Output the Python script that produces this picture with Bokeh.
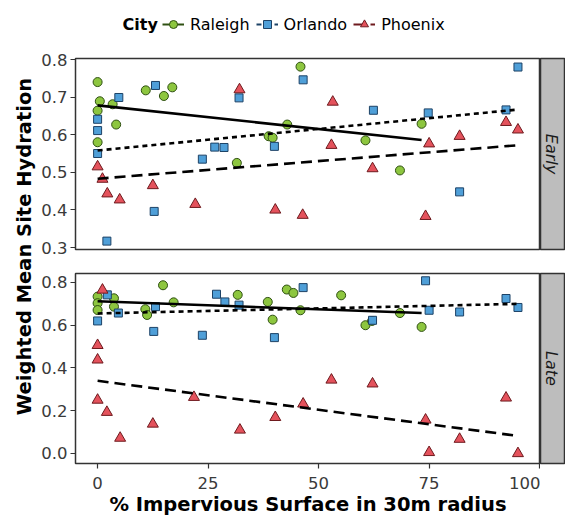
import numpy as np
from bokeh.plotting import figure
from bokeh.layouts import column, row
from bokeh.models import (Range1d, FixedTicker, PrintfTickFormatter, Label, Legend,
                          LegendItem, ColumnDataSource)
from bokeh.embed import file_html
from bokeh.resources import INLINE

# ---------------- data ----------------
cities = ["Raleigh", "Orlando", "Phoenix"]
periods = ["Early", "Late"]

early_raleigh_x = [0, 0.5, 0, 3.4, 4.2, 0, 10.9, 15.0, 16.9, 31.5, 38.7, 39.6, 42.9, 45.9, 60.6, 68.4, 73.3]
early_raleigh_y = [0.740, 0.689, 0.664, 0.681, 0.627, 0.580, 0.718, 0.703, 0.726, 0.525, 0.596, 0.592, 0.627, 0.781, 0.585, 0.505, 0.629]

early_orlando_x = [0, 0, 0, 2.1, 4.8, 13.1, 12.8, 23.7, 26.5, 28.6, 32.0, 40.0, 46.5, 62.4, 74.8, 81.9, 92.4, 95.1]
early_orlando_y = [0.641, 0.611, 0.550, 0.317, 0.699, 0.731, 0.396, 0.535, 0.567, 0.566, 0.698, 0.569, 0.746, 0.665, 0.658, 0.448, 0.666, 0.780]

early_phoenix_x = [0, 1.1, 2.2, 5.0, 12.5, 22.1, 32.1, 40.2, 46.4, 53.2, 52.9, 62.2, 75.0, 74.2, 81.9, 92.4, 95.1]
early_phoenix_y = [0.515, 0.482, 0.443, 0.427, 0.465, 0.415, 0.720, 0.400, 0.386, 0.687, 0.572, 0.510, 0.576, 0.383, 0.596, 0.633, 0.613]

late_raleigh_x = [0, 0, 0, 3.7, 3.7, 10.8, 11.2, 14.8, 17.2, 31.7, 38.5, 39.6, 42.8, 44.3, 45.9, 55.1, 60.6, 62.1, 68.4, 73.3]
late_raleigh_y = [0.734, 0.703, 0.671, 0.726, 0.687, 0.675, 0.648, 0.787, 0.707, 0.742, 0.709, 0.626, 0.767, 0.751, 0.670, 0.740, 0.600, 0.620, 0.657, 0.592]

late_orlando_x = [0, 2.2, 4.7, 13.1, 12.7, 23.7, 26.9, 28.8, 32.0, 40.0, 46.5, 62.2, 74.2, 75.0, 81.9, 92.4, 95.1]
late_orlando_y = [0.620, 0.742, 0.657, 0.687, 0.571, 0.553, 0.745, 0.709, 0.694, 0.542, 0.776, 0.623, 0.808, 0.670, 0.662, 0.725, 0.683]

late_phoenix_x = [1.1, 0, 0, 0, 2.1, 5.1, 12.5, 21.8, 32.2, 40.2, 46.5, 52.9, 62.2, 74.2, 75.0, 81.9, 92.4, 95.1]
late_phoenix_y = [0.765, 0.506, 0.438, 0.250, 0.193, 0.072, 0.138, 0.263, 0.110, 0.169, 0.232, 0.344, 0.326, 0.157, 0.005, 0.067, 0.260, 0.000]

# fitted trend lines (end points)
early_fit_raleigh_x = [0, 73.3]
early_fit_raleigh_y = [0.678, 0.586]
early_fit_orlando_x = [0, 95.1]
early_fit_orlando_y = [0.558, 0.667]
early_fit_phoenix_x = [0, 95.1]
early_fit_phoenix_y = [0.483, 0.572]

late_fit_raleigh_x = [0, 73.3]
late_fit_raleigh_y = [0.712, 0.657]
late_fit_orlando_x = [0, 95.1]
late_fit_orlando_y = [0.655, 0.700]
late_fit_phoenix_x = [0, 95.1]
late_fit_phoenix_y = [0.340, 0.082]

x_ticks = [0, 25, 50, 75, 100]
early_y_ticks = [0.3, 0.4, 0.5, 0.6, 0.7, 0.8]
late_y_ticks = [0.0, 0.2, 0.4, 0.6, 0.8]

x_title = "% Impervious Surface in 30m radius"
y_title = "Weighted Mean Site Hydration"
legend_title = "City"

# ---------------- styles ----------------
FONT = "DejaVu Sans"
fill = {"Raleigh": "#8dc63f", "Orlando": "#4f9fd8", "Phoenix": "#e4525c"}
edge = {"Raleigh": "#2f5012", "Orlando": "#1d4266", "Phoenix": "#6e1a1e"}
marker = {"Raleigh": "circle", "Orlando": "square", "Phoenix": "triangle"}
msize = {"Raleigh": 9, "Orlando": 8, "Phoenix": 11}
dash = {"Raleigh": "solid", "Orlando": "5 4", "Phoenix": "11 6"}

points = {
    "Early": {"Raleigh": (early_raleigh_x, early_raleigh_y),
              "Orlando": (early_orlando_x, early_orlando_y),
              "Phoenix": (early_phoenix_x, early_phoenix_y)},
    "Late": {"Raleigh": (late_raleigh_x, late_raleigh_y),
             "Orlando": (late_orlando_x, late_orlando_y),
             "Phoenix": (late_phoenix_x, late_phoenix_y)},
}
fits = {
    "Early": {"Raleigh": (early_fit_raleigh_x, early_fit_raleigh_y),
              "Orlando": (early_fit_orlando_x, early_fit_orlando_y),
              "Phoenix": (early_fit_phoenix_x, early_fit_phoenix_y)},
    "Late": {"Raleigh": (late_fit_raleigh_x, late_fit_raleigh_y),
             "Orlando": (late_fit_orlando_x, late_fit_orlando_y),
             "Phoenix": (late_fit_phoenix_x, late_fit_phoenix_y)},
}

PANEL_W = 504
LEFT = 39
STRIP_W = 25


def make_panel(period, y_lo, y_hi, yticks, height, top, bottom, show_x):
    p = figure(width=PANEL_W, height=height,
               x_range=Range1d(-5.0, 100.2), y_range=Range1d(y_lo, y_hi),
               output_backend="svg", toolbar_location=None,
               min_border_left=LEFT, min_border_right=0,
               min_border_top=top, min_border_bottom=bottom,
               x_axis_location="below" if show_x else None)
    p.grid.visible = False
    p.background_fill_color = "white"
    p.border_fill_color = "white"
    p.outline_line_color = "#333333"
    p.outline_line_width = 1.5

    for c in cities:
        xs, ys = points[period][c]
        p.scatter(xs, ys, marker=marker[c], size=msize[c], fill_color=fill[c],
                  line_color=edge[c], line_width=1)
    for c in cities:
        fx, fy = fits[period][c]
        p.line(fx, fy, line_color="black", line_width=2.6, line_dash=dash[c])

    ya = p.yaxis[0]
    ya.ticker = FixedTicker(ticks=yticks)
    ya.formatter = PrintfTickFormatter(format="%.1f")
    ya.axis_line_color = None
    ya.major_tick_line_color = "#333333"
    ya.major_tick_line_width = 1.2
    ya.major_tick_out = 5
    ya.major_tick_in = 0
    ya.minor_tick_line_color = None
    ya.major_label_standoff = 3
    ya.major_label_text_font = FONT
    ya.major_label_text_font_size = "16.5px"
    ya.major_label_text_color = "#3a3a3a"

    if show_x:
        xa = p.xaxis[0]
        xa.ticker = FixedTicker(ticks=x_ticks)
        xa.axis_line_color = None
        xa.major_tick_line_color = "#333333"
        xa.major_tick_line_width = 1.2
        xa.major_tick_out = 5
        xa.major_tick_in = 0
        xa.minor_tick_line_color = None
        xa.major_label_standoff = 8
        xa.major_label_text_font = FONT
        xa.major_label_text_font_size = "16.5px"
        xa.major_label_text_color = "#3a3a3a"
        xa.axis_label = x_title
        xa.axis_label_text_font = FONT
        xa.axis_label_text_font_style = "bold"
        xa.axis_label_text_font_size = "19.5px"
        xa.axis_label_text_color = "black"
        xa.axis_label_standoff = 1
    return p


def make_strip(text, height, top, bottom):
    s = figure(width=STRIP_W, height=height, x_range=Range1d(0, 1), y_range=Range1d(0, 1),
               output_backend="svg", toolbar_location=None,
               min_border_left=0, min_border_right=0,
               min_border_top=top, min_border_bottom=bottom,
               x_axis_location=None, y_axis_location=None)
    s.grid.visible = False
    s.background_fill_color = "#bdbdbd"
    s.border_fill_color = "white"
    s.outline_line_color = "#333333"
    s.outline_line_width = 1.5
    s.add_layout(Label(x=0.45, y=0.5, text=text, angle=-np.pi / 2,
                       text_align="center", text_baseline="middle",
                       text_font=FONT, text_font_style="italic",
                       text_font_size="16px", text_color="#1a1a1a"))
    return s


top_h, top_t, top_b = 207, 8, 8
bot_h, bot_t, bot_b = 264, 16, 58

p_early = make_panel("Early", 0.2947, 0.8027, early_y_ticks, top_h, top_t, top_b, False)
p_late = make_panel("Late", -0.047, 0.842, late_y_ticks, bot_h, bot_t, bot_b, True)
s_early = make_strip(periods[0], top_h, top_t, top_b)
s_late = make_strip(periods[1], bot_h, bot_t, bot_b)

# y-axis title spanning both panels
LAB_W = 565 - PANEL_W - STRIP_W
lab_h = top_h + bot_h
lab = figure(width=LAB_W, height=lab_h, x_range=Range1d(0, LAB_W), y_range=Range1d(0, lab_h),
             output_backend="svg", toolbar_location=None, min_border=0,
             x_axis_location=None, y_axis_location=None)
lab.grid.visible = False
lab.outline_line_color = None
lab.add_layout(Label(x=24, y=275, text=y_title, angle=np.pi / 2,
                     text_align="center", text_baseline="middle",
                     text_font=FONT, text_font_style="bold",
                     text_font_size="19.5px", text_color="black"))

# header with legend (legend-key renderers hold a single NaN point: nothing drawn in the plot)
hdr = figure(width=565, height=50, x_range=Range1d(0, 565), y_range=Range1d(0, 50),
             output_backend="svg", toolbar_location=None, min_border=0,
             x_axis_location=None, y_axis_location=None)
hdr.grid.visible = False
hdr.outline_line_color = None
hdr.add_layout(Label(x=122, y=26, text=legend_title, text_align="left", text_baseline="middle",
                     text_font=FONT, text_font_style="bold", text_font_size="16px",
                     text_color="black"))
items = []
for c in cities:
    src = ColumnDataSource(data=dict(x=[np.nan], y=[np.nan]))
    rl = hdr.line("x", "y", source=src, line_color=edge[c], line_width=2, line_dash=dash[c])
    rp = hdr.scatter("x", "y", source=src, marker=marker[c], size=msize[c],
                     fill_color=fill[c], line_color=edge[c], line_width=1)
    items.append(LegendItem(label=c, renderers=[rl, rp]))
leg = Legend(items=items, orientation="horizontal", location=(162, 16),
             glyph_width=22, glyph_height=20, label_standoff=6, spacing=6,
             padding=0, margin=0, border_line_color=None, background_fill_alpha=0,
             label_text_font=FONT, label_text_font_size="16px", label_text_color="black")
hdr.add_layout(leg)

layout = column(hdr,
                row(lab, column(row(p_early, s_early), row(p_late, s_late))))

open("out.html", "w").write(file_html(layout, INLINE))
